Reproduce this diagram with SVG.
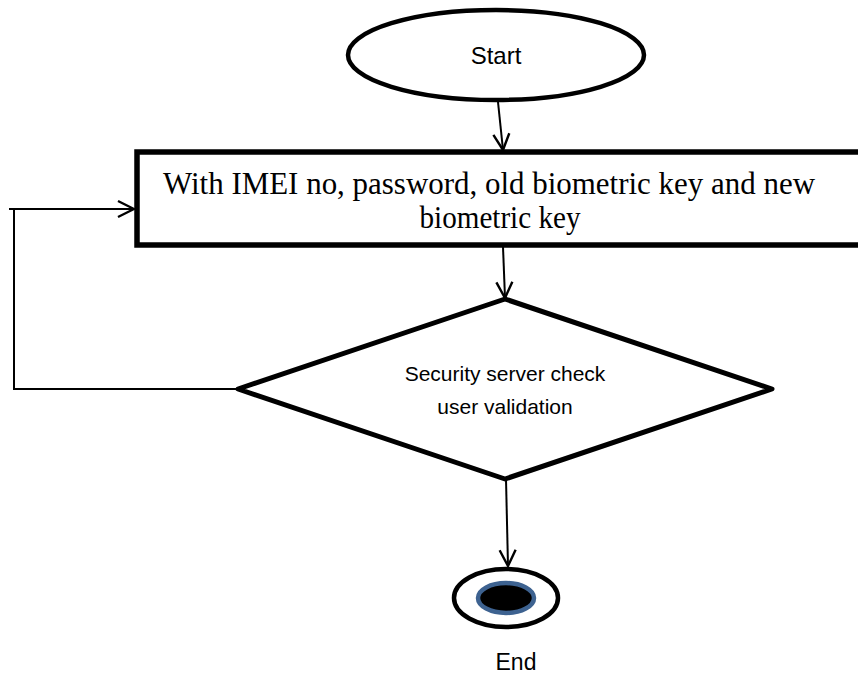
<svg xmlns="http://www.w3.org/2000/svg" width="858" height="675" viewBox="0 0 858 675">
  <defs>
    <marker id="open-arrow" viewBox="0 0 20 20" refX="18" refY="10" markerWidth="20" markerHeight="20" markerUnits="userSpaceOnUse" orient="auto">
      <path d="M2,2 L18,10 L2,18" fill="none" stroke="#000" stroke-width="2.4" stroke-linejoin="miter"/>
    </marker>
  </defs>
  <style>
    .shape { fill: #fff; stroke: #000; }
    .conn { fill: none; stroke: #000; stroke-width: 2; }
    .sans { font-family: "Liberation Sans", Arial, sans-serif; fill: #000; text-anchor: middle; }
    .serif { font-family: "Liberation Serif", "Times New Roman", serif; fill: #000; text-anchor: middle; }
  </style>
  <rect width="858" height="675" fill="#fff"/>

  <g id="connectors">
    <path class="conn" d="M498,102 L503,150" marker-end="url(#open-arrow)"/>
    <path class="conn" d="M503,247 L505,298" marker-end="url(#open-arrow)"/>
    <path class="conn" d="M238,389 L14,389 L14,209"/>
    <path class="conn" d="M9,209 L134,209" marker-end="url(#open-arrow)"/>
    <path class="conn" d="M506,479 L508,566" marker-end="url(#open-arrow)"/>
  </g>

  <g id="start">
    <ellipse class="shape" cx="496" cy="55" rx="148" ry="45" stroke-width="4.5"/>
    <text class="sans" x="496" y="64" font-size="24">Start</text>
  </g>

  <g id="input">
    <rect class="shape" x="137" y="152" width="740" height="93" stroke-width="5.5"/>
    <text class="serif" x="489" y="194" font-size="32" textLength="652" lengthAdjust="spacingAndGlyphs">With IMEI no, password, old biometric key and new</text>
    <text class="serif" x="500" y="228" font-size="32" textLength="161" lengthAdjust="spacingAndGlyphs">biometric key</text>
  </g>

  <g id="validation">
    <polygon class="shape" points="505,299 772,389 505,479 238,389" stroke-width="5" stroke-linejoin="round"/>
    <text class="sans" x="505" y="381" font-size="21">Security server check</text>
    <text class="sans" x="505" y="414" font-size="21">user validation</text>
  </g>

  <g id="end">
    <ellipse class="shape" cx="506" cy="598" rx="52" ry="29" stroke-width="4.5"/>
    <ellipse cx="506" cy="598" rx="28" ry="15" fill="#000" stroke="#3d6290" stroke-width="4.5"/>
    <text class="sans" x="516" y="670" font-size="23">End</text>
  </g>
</svg>
